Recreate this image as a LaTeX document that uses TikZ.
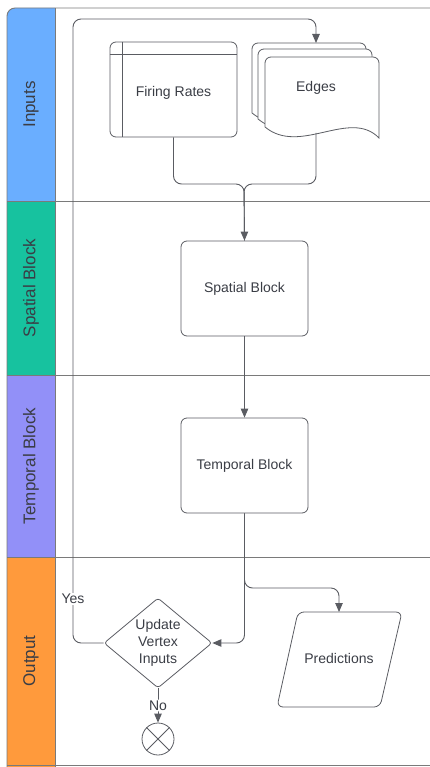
\documentclass[tikz,border=0pt]{standalone}
\usepackage{fontspec}
\setmainfont{Liberation Sans}
\usetikzlibrary{arrows.meta,shapes.geometric}
\definecolor{lanein}{HTML}{6AAEFF}
\definecolor{lanesp}{HTML}{17C29F}
\definecolor{lanetp}{HTML}{9290F8}
\definecolor{laneout}{HTML}{FF9A3C}
\definecolor{framegray}{HTML}{7A7A7A}
\definecolor{linegray}{HTML}{5A5C62}
\definecolor{txt}{HTML}{3A3D45}
\tikzset{
  frame/.style={draw=framegray,line width=0.9pt},
  lanetxt/.style={rotate=90,text=txt,font=\fontsize{17}{20}\selectfont},
  box/.style={draw=linegray,line width=0.8pt,rounded corners=6pt,minimum width=127pt,minimum height=95pt,text=txt,font=\fontsize{14}{17}\selectfont},
  lbl/.style={text=txt,font=\fontsize{14}{16.7}\selectfont,align=center},
  conn/.style={draw=linegray,line width=0.9pt,rounded corners=8pt},
  flow/.style={conn,-{Triangle[length=9pt,width=7.5pt]}}
}
\begin{document}
\begin{tikzpicture}[x=1pt,y=-1pt]
\useasboundingbox (0,0) rectangle (430,767);
\fill[lanein] (7,201) -- (7,16) arc[start angle=180,end angle=90,radius=8pt] -- (55,8) -- (55,201) -- cycle;
\fill[lanesp] (7,201) rectangle (55,375);
\fill[lanetp] (7,375) rectangle (55,557);
\fill[laneout] (7,557) rectangle (55,767);
\draw[frame] (7,767) -- (7,16) arc[start angle=180,end angle=90,radius=8pt] -- (430,8);
\draw[frame] (55,8) -- (55,767);
\foreach \y in {201,375,557,765} \draw[frame] (7,\y) -- (430,\y);
\node[lanetxt] (hin) at (31,104.5) {Inputs};
\node[lanetxt] (hsp) at (31,288) {Spatial Block};
\node[lanetxt] (htp) at (31,466) {Temporal Block};
\node[lanetxt] (hout) at (31,661) {Output};

\node[box,text height=16pt,text depth=2pt] (fr) at (173.5,89.5) {Firing Rates};
\draw[draw=linegray,line width=0.8pt] ([xshift=13pt]fr.north west) -- ([xshift=13pt]fr.south west)
  ([yshift=-13pt]fr.north west) -- ([yshift=-13pt]fr.north east);
\foreach \dx/\dy in {-13/-14,-7/-8,0/0}
  \filldraw[fill=white,draw=linegray,line width=0.8pt,shift={(\dx,\dy)}]
    (379,138) .. controls (350,108) and (300,156) .. (265,127)
    [rounded corners=6pt] -- (265,57) -- (379,57) [sharp corners] -- cycle;
\node[lbl] (edges) at (316,88) {Edges};
\coordinate (edgestop) at (316,43);
\coordinate (edgesbot) at (316,133);
\coordinate (join) at (244,184);

\node[box] (sb) at (244.5,288.5) {Spatial Block};
\node[box] (tb) at (244.5,465.5) {Temporal Block};
\node[diamond,draw=linegray,line width=0.8pt,rounded corners=3pt,inner sep=0pt,aspect=1.2,
  minimum width=108pt,minimum height=90pt,lbl] (dec) at (158,643) {Update\\Vertex\\Inputs};
\draw[draw=linegray,line width=0.8pt,rounded corners=6pt] (298,612) -- (402,612) -- (380,707) -- (277,707) -- cycle;
\node[lbl] (pred) at (339,658) {Predictions};
\coordinate (predtop) at (339,612);
\node[circle,draw=linegray,line width=0.8pt,minimum size=32pt] (stop) at (158,739) {};
\draw[draw=linegray,line width=0.8pt] (stop.north west) -- (stop.south east) (stop.north east) -- (stop.south west);
\coordinate (split) at (339,588);

\draw[flow] (fr.south) |- (join) -- (sb.north);
\draw[conn] (edgesbot) |- (join) -- (sb.north);
\draw[flow] (sb.south) -- (tb.north);
\draw[flow] (tb.south) |- (dec.east);
\draw[flow] (tb.south) |- (split) -- (predtop);
\draw[flow] (dec.west) -| (73,19) -| (edgestop);
\node[lbl,fill=white,inner sep=1pt] (yes) at (73,599) {Yes};
\draw[flow] (dec.south) -- (stop.north) node[midway,lbl,fill=white,inner sep=1pt] (no) {No};
\end{tikzpicture}
\end{document}
